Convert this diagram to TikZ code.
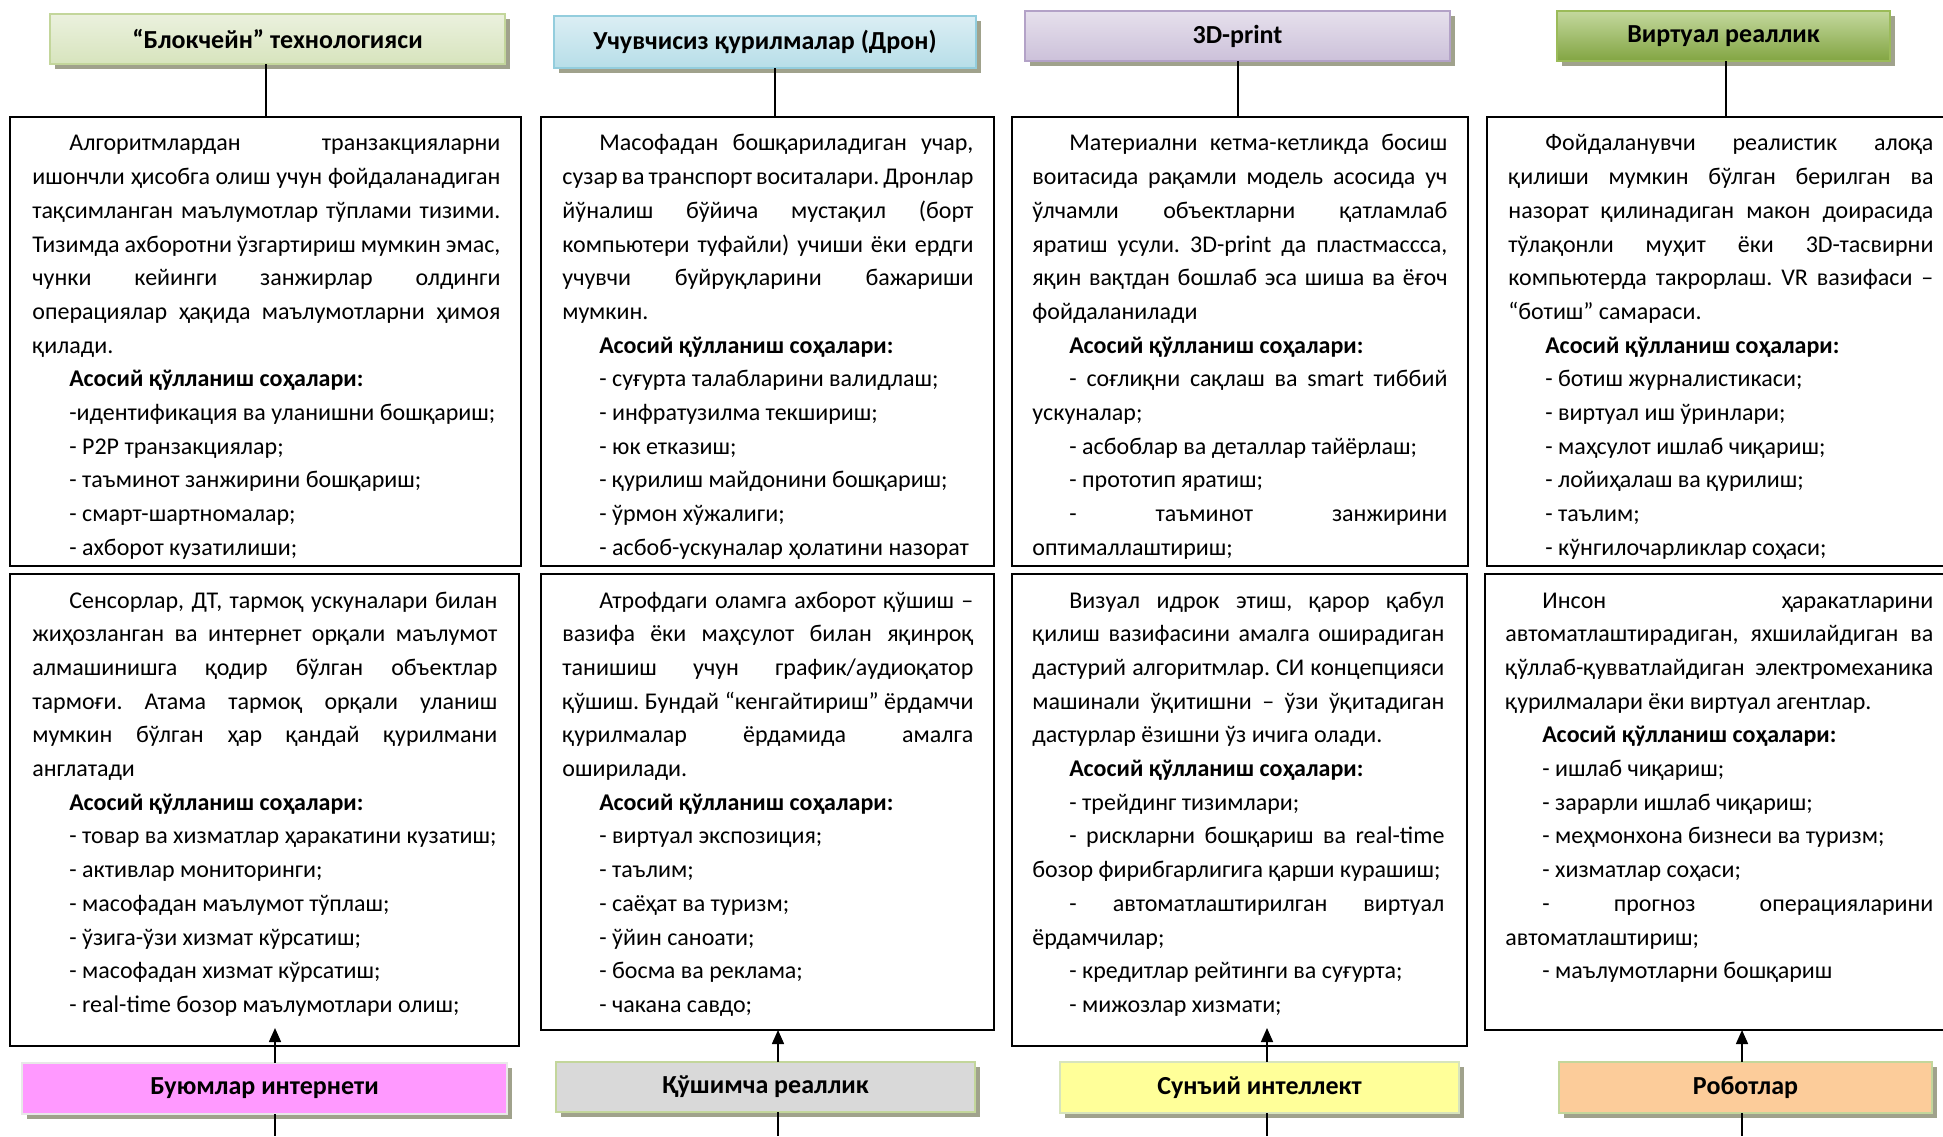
\documentclass[tikz,border=0pt]{standalone}
\usepackage{fontspec}
\setmainfont{Carlito}
\usepackage{tikz}
\usetikzlibrary{arrows.meta,shadows}

\definecolor{shd}{RGB}{160,162,140}
\definecolor{grnA}{RGB}{235,241,222}
\definecolor{grnB}{RGB}{215,228,189}
\definecolor{grnL}{RGB}{195,214,155}
\definecolor{bluA}{RGB}{219,238,244}
\definecolor{bluB}{RGB}{183,222,232}
\definecolor{bluL}{RGB}{147,205,221}
\definecolor{vioA}{RGB}{230,224,236}
\definecolor{vioB}{RGB}{204,193,218}
\definecolor{vioL}{RGB}{179,162,199}
\definecolor{limA}{RGB}{196,216,158}
\definecolor{limB}{RGB}{130,165,66}
\definecolor{limL}{RGB}{155,187,89}
\definecolor{pnk}{RGB}{255,153,255}
\definecolor{gry}{RGB}{217,217,217}
\definecolor{ylw}{RGB}{255,255,153}
\definecolor{ora}{RGB}{252,204,154}

\newcommand{\jline}[1]{\leavevmode\hbox to\hsize{\spaceskip=0pt\xspaceskip=0pt\relax #1}}
\newcommand{\pind}{\hspace*{18.5pt}}

\begin{document}
\begin{tikzpicture}[x=0.5pt,y=-0.5pt,
    hdr/.style={draw, line width=0.9pt, inner sep=0, outer sep=0,
        font=\bfseries\fontsize{13}{15}\selectfont,
        drop shadow={shadow xshift=2.5pt, shadow yshift=-2.5pt, fill=shd, opacity=1}},
    tbox/.style={draw=black, line width=1pt, inner sep=0, outer sep=0},
    txt/.style={anchor=north west, inner sep=0, align=justify,
        font=\fontsize{12}{16.85}\selectfont\frenchspacing},
    arr/.style={-{Triangle[width=6pt,length=7pt]}, line width=0.8pt},
    ln/.style={line width=0.8pt}]

    \useasboundingbox (0,0) rectangle (1943,1136);

    % upper text boxes
    \node[tbox, minimum width=255.5pt, minimum height=224.5pt] (bxA) at (265.5,341.5) {};
    \node[tbox, minimum width=226.5pt, minimum height=224.5pt] (bxB) at (767.5,341.5) {};
    \node[tbox, minimum width=228pt,   minimum height=224.5pt] (bxC) at (1240,341.5) {};
    \node[tbox, minimum width=234pt,   minimum height=224.5pt] (bxD) at (1721,341.5) {};

    % lower text boxes
    \node[tbox, minimum width=254.5pt, minimum height=236pt]   (bxE) at (264.5,810) {};
    \node[tbox, minimum width=226.5pt, minimum height=228pt]   (bxF) at (767.5,802) {};
    \node[tbox, minimum width=227.5pt, minimum height=236pt]   (bxG) at (1239.5,810) {};
    \node[tbox, minimum width=235pt,   minimum height=228pt]   (bxH) at (1720,802) {};

    \begin{scope}
        \clip (bxA.north west) rectangle ([shift={(0,-8)}]bxA.south east);
        \node[txt, text width=234pt] (txA) at ([shift={(22,10)}]bxA.north west) {%
            \strut\jline{\pind Алгоритмлардан транзакцияларни}\\
            \jline{ишончли ҳисобга олиш учун фойдаланадиган}\\
            \jline{тақсимланган маълумотлар тўплами тизими.}\\
            \jline{Тизимда ахборотни ўзгартириш мумкин эмас,}\\
            \jline{чунки кейинги занжирлар олдинги}\\
            \jline{операциялар ҳақида маълумотларни ҳимоя}\\
            қилади.\\
            \pind\textbf{Асосий қўлланиш соҳалари:}\\
            \pind-идентификация ва уланишни бошқариш;\\
            \pind- P2P транзакциялар;\\
            \pind- таъминот занжирини бошқариш;\\
            \pind- смарт-шартномалар;\\
            \pind- ахборот кузатилиши;};
    \end{scope}

    \begin{scope}
        \clip (bxB.north west) rectangle ([shift={(0,-8)}]bxB.south east);
        \node[txt, text width=205.5pt] (txB) at ([shift={(21,10)}]bxB.north west) {%
            \strut\jline{\pind Масофадан бошқариладиган учар,}\\
            \jline{сузар ва транспорт воситалари. Дронлар}\\
            \jline{йўналиш бўйича мустақил (борт}\\
            \jline{компьютери туфайли) учиши ёки ердги}\\
            \jline{учувчи буйруқларини бажариши}\\
            мумкин.\\
            \pind\textbf{Асосий қўлланиш соҳалари:}\\
            \pind- суғурта талабларини валидлаш;\\
            \pind- инфратузилма текшириш;\\
            \pind- юк етказиш;\\
            \pind- қурилиш майдонини бошқариш;\\
            \pind- ўрмон хўжалиги;\\
            \pind- асбоб-ускуналар ҳолатини назорат};
    \end{scope}

    \begin{scope}
        \clip (bxC.north west) rectangle ([shift={(0,-8)}]bxC.south east);
        \node[txt, text width=207.5pt] (txC) at ([shift={(20,10)}]bxC.north west) {%
            \strut\jline{\pind Материални кетма-кетликда босиш}\\
            \jline{воитасида рақамли модель асосида уч}\\
            \jline{ўлчамли объектларни қатламлаб}\\
            \jline{яратиш усули. 3D-print да пластмассса,}\\
            \jline{яқин вақтдан бошлаб эса шиша ва ёғоч}\\
            фойдаланилади\\
            \pind\textbf{Асосий қўлланиш соҳалари:}\\
            \jline{\pind- соғлиқни сақлаш ва smart тиббий}\\
            ускуналар;\\
            \pind- асбоблар ва деталлар тайёрлаш;\\
            \pind- прототип яратиш;\\
            \jline{\pind- таъминот занжирини}\\
            оптималлаштириш;};
    \end{scope}

    \begin{scope}
        \clip (bxD.north west) rectangle ([shift={(0,-8)}]bxD.south east);
        \node[txt, text width=212.5pt] (txD) at ([shift={(21,10)}]bxD.north west) {%
            \strut\jline{\pind Фойдаланувчи реалистик алоқа}\\
            \jline{қилиши мумкин бўлган берилган ва}\\
            \jline{назорат қилинадиган макон доирасида}\\
            \jline{тўлақонли муҳит ёки 3D-тасвирни}\\
            \jline{компьютерда такрорлаш. VR вазифаси –}\\
            “ботиш” самараси.\\
            \pind\textbf{Асосий қўлланиш соҳалари:}\\
            \pind- ботиш журналистикаси;\\
            \pind- виртуал иш ўринлари;\\
            \pind- маҳсулот ишлаб чиқариш;\\
            \pind- лойиҳалаш ва қурилиш;\\
            \pind- таълим;\\
            \pind- кўнгилочарликлар соҳаси;};
    \end{scope}

    \begin{scope}
        \clip (bxE.north west) rectangle ([shift={(0,-8)}]bxE.south east);
        \node[txt, text width=232.5pt] (txE) at ([shift={(22,10)}]bxE.north west) {%
            \strut\jline{\pind Сенсорлар, ДТ, тармоқ ускуналари билан}\\
            \jline{жиҳозланган ва интернет орқали маълумот}\\
            \jline{алмашинишга қодир бўлган объектлар}\\
            \jline{тармоғи. Атама тармоқ орқали уланиш}\\
            \jline{мумкин бўлган ҳар қандай қурилмани}\\
            англатади\\
            \pind\textbf{Асосий қўлланиш соҳалари:}\\
            \pind- товар ва хизматлар ҳаракатини кузатиш;\\
            \pind- активлар мониторинги;\\
            \pind- масофадан маълумот тўплаш;\\
            \pind- ўзига-ўзи хизмат кўрсатиш;\\
            \pind- масофадан хизмат кўрсатиш;\\
            \pind- real-time бозор маълумотлари олиш;};
    \end{scope}

    \begin{scope}
        \clip (bxF.north west) rectangle ([shift={(0,-8)}]bxF.south east);
        \node[txt, text width=205.5pt] (txF) at ([shift={(21,10)}]bxF.north west) {%
            \strut\jline{\pind Атрофдаги оламга ахборот қўшиш –}\\
            \jline{вазифа ёки маҳсулот билан яқинроқ}\\
            \jline{танишиш учун график/аудиоқатор}\\
            \jline{қўшиш. Бундай “кенгайтириш” ёрдамчи}\\
            \jline{қурилмалар ёрдамида амалга}\\
            оширилади.\\
            \pind\textbf{Асосий қўлланиш соҳалари:}\\
            \pind- виртуал экспозиция;\\
            \pind- таълим;\\
            \pind- саёҳат ва туризм;\\
            \pind- ўйин саноати;\\
            \pind- босма ва реклама;\\
            \pind- чакана савдо;};
    \end{scope}

    \begin{scope}
        \clip (bxG.north west) rectangle ([shift={(0,-8)}]bxG.south east);
        \node[txt, text width=206pt] (txG) at ([shift={(20,10)}]bxG.north west) {%
            \strut\jline{\pind Визуал идрок этиш, қарор қабул}\\
            \jline{қилиш вазифасини амалга оширадиган}\\
            \jline{дастурий алгоритмлар. СИ концепцияси}\\
            \jline{машинали ўқитишни – ўзи ўқитадиган}\\
            дастурлар ёзишни ўз ичига олади.\\
            \pind\textbf{Асосий қўлланиш соҳалари:}\\
            \pind- трейдинг тизимлари;\\
            \jline{\pind- рискларни бошқариш ва real-time}\\
            бозор фирибгарлигига қарши курашиш;\\
            \jline{\pind- автоматлаштирилган виртуал}\\
            ёрдамчилар;\\
            \pind- кредитлар рейтинги ва суғурта;\\
            \pind- мижозлар хизмати;};
    \end{scope}

    \begin{scope}
        \clip (bxH.north west) rectangle ([shift={(0,-8)}]bxH.south east);
        \node[txt, text width=214pt] (txH) at ([shift={(20,10)}]bxH.north west) {%
            \strut\jline{\pind Инсон ҳаракатларини}\\
            \jline{автоматлаштирадиган, яхшилайдиган ва}\\
            \jline{қўллаб-қувватлайдиган электромеханика}\\
            қурилмалари ёки виртуал агентлар.\\
            \pind\textbf{Асосий қўлланиш соҳалари:}\\
            \pind- ишлаб чиқариш;\\
            \pind- зарарли ишлаб чиқариш;\\
            \pind- меҳмонхона бизнеси ва туризм;\\
            \pind- хизматлар соҳаси;\\
            \jline{\pind- прогноз операцияларини}\\
            автоматлаштириш;\\
            \pind- маълумотларни бошқариш};
    \end{scope}

    % headers
    \node[hdr, draw=grnL, top color=grnA, bottom color=grnB, minimum width=227.5pt, minimum height=25pt] (hdA) at (277.5,39) {“Блокчейн” технологияси};
    \node[hdr, draw=bluL, top color=bluA, bottom color=bluB, minimum width=211pt, minimum height=26pt] (hdB) at (765,42) {Учувчисиз қурилмалар (Дрон)};
    \node[hdr, draw=vioL, top color=vioA, bottom color=vioB, minimum width=212.5pt, minimum height=25pt] (hdC) at (1237.5,36) {3D-print};
    \node[hdr, draw=limL, top color=limA, bottom color=limB, minimum width=166.5pt, minimum height=25pt] (hdD) at (1723.5,36) {Виртуал реаллик};

    \node[hdr, draw=gry!60, fill=pnk, minimum width=242.5pt, minimum height=25.5pt] (hdE) at (264.5,1088.5) {Буюмлар интернети};
    \node[hdr, draw=grnL, fill=gry, minimum width=209.5pt, minimum height=25pt] (hdF) at (765.5,1087) {Қўшимча реаллик};
    \node[hdr, draw=grnB, fill=ylw, minimum width=199.5pt, minimum height=25.5pt] (hdG) at (1259.5,1087.5) {Сунъий интеллект};
    \node[hdr, draw=grnL, fill=ora, minimum width=186.5pt, minimum height=25.5pt] (hdH) at (1745.5,1087.5) {Роботлар};

    % connectors
    \coordinate (lnA) at (266,0);
    \coordinate (lnB) at (775,0);
    \coordinate (lnC) at (1238,0);
    \coordinate (lnD) at (1726,0);
    \draw[ln] (hdA.south -| lnA) -- (bxA.north -| lnA);
    \draw[ln] (hdB.south -| lnB) -- (bxB.north -| lnB);
    \draw[ln] (hdC.south -| lnC) -- (bxC.north -| lnC);
    \draw[ln] (hdD.south -| lnD) -- (bxD.north -| lnD);

    \coordinate (lnE) at (275,1136);
    \coordinate (lnF) at (778,1136);
    \coordinate (lnG) at (1267,1136);
    \coordinate (lnH) at (1742,1136);
    \coordinate (tipE) at (275,1028);
    \coordinate (tipG) at (1267,1028);
    \draw[arr] (hdE.north -| lnE) -- (tipE);
    \draw[arr] (hdF.north -| lnF) -- (bxF.south -| lnF);
    \draw[arr] (hdG.north -| lnG) -- (tipG);
    \draw[arr] (hdH.north -| lnH) -- (bxH.south -| lnH);
    \draw[ln] (hdE.south -| lnE) -- (lnE);
    \draw[ln] (hdF.south -| lnF) -- (lnF);
    \draw[ln] (hdG.south -| lnG) -- (lnG);
    \draw[ln] (hdH.south -| lnH) -- (lnH);
\end{tikzpicture}
\end{document}
